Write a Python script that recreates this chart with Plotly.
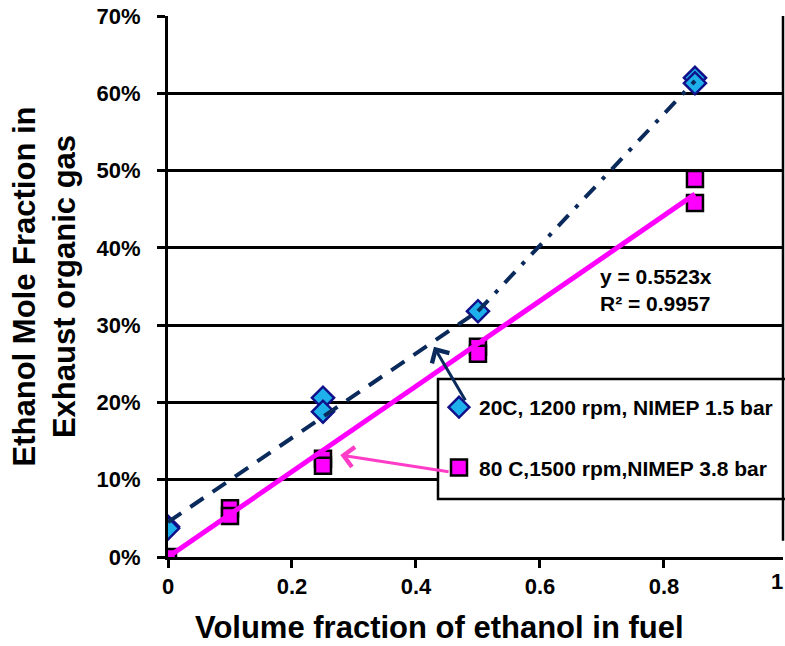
import plotly.graph_objects as go

# ---- data ----
x_20c = [0, 0, 0.25, 0.25, 0.5, 0.85, 0.85]
y_20c = [0.039, 0.037, 0.206, 0.188, 0.318, 0.620, 0.613]

x_80c = [0, 0.1, 0.1, 0.25, 0.25, 0.5, 0.5, 0.85, 0.85]
y_80c = [0.000, 0.063, 0.053, 0.127, 0.118, 0.272, 0.263, 0.489, 0.458]

# connecting line for the 20C series (dashed, then dash-dot)
line20_x_dash = [0, 0.5]
line20_y_dash = [0.045, 0.318]
line20_x_dashdot = [0.5, 0.85]
line20_y_dashdot = [0.318, 0.616]

# linear fit of the 80C series, y = 0.5523x
fit_slope = 0.5523
fit_r2 = 0.9957
fit_x = [0, 0.85]
fit_y = [fit_slope * v for v in fit_x]

label_20c = "20C, 1200 rpm, NIMEP 1.5 bar"
label_80c = "80 C,1500 rpm,NIMEP 3.8 bar"

x_ticks = [0, 0.2, 0.4, 0.6, 0.8]
x_tick_text = ["0", "0.2", "0.4", "0.6", "0.8"]
y_ticks = [0, 0.1, 0.2, 0.3, 0.4, 0.5, 0.6, 0.7]

FONT = "Liberation Sans, Arial, sans-serif"
NAVY = "#0b2a5c"
PINK = "#ff00ff"

fig = go.Figure()

fig.add_trace(go.Scatter(
    x=x_20c, y=y_20c, mode="markers", name=label_20c, legendgroup="a",
    marker=dict(symbol="diamond", size=17, color="#1eb0ea", line=dict(color="#10108a", width=2.5)),
))
fig.add_trace(go.Scatter(
    x=x_80c, y=y_80c, mode="markers", name=label_80c, legendgroup="b",
    marker=dict(symbol="square", size=16, color=PINK, line=dict(color="black", width=2.5)),
))
fig.add_trace(go.Scatter(
    x=line20_x_dash, y=line20_y_dash, mode="lines", showlegend=False,
    line=dict(color=NAVY, width=4, dash="16px,11px"),
))
fig.add_trace(go.Scatter(
    x=line20_x_dashdot, y=line20_y_dashdot, mode="lines", showlegend=False,
    line=dict(color=NAVY, width=4, dash="15px,10px,4px,10px"),
))
fig.add_trace(go.Scatter(
    x=fit_x, y=fit_y, mode="lines", showlegend=False,
    line=dict(color=PINK, width=5),
))

# legend box
fig.add_shape(type="rect", xref="paper", yref="paper",
              x0=(438 - 168) / 615, x1=1.2, y0=(557 - 499) / 541, y1=(557 - 379) / 541,
              fillcolor="white", line=dict(color="black", width=2.5), layer="above")
# right border of plot area
fig.add_shape(type="line", xref="paper", yref="paper", x0=1, x1=1, y0=0.03, y1=1,
              line=dict(color="black", width=2.5), layer="above")

# trendline equation
fig.add_annotation(x=0.694, y=0.345, xref="x", yref="y", xanchor="left", yanchor="middle",
                   align="left", showarrow=False,
                   text=f"<b>y = {fit_slope}x<br>R² = {fit_r2}</b>",
                   font=dict(family=FONT, size=21, color="black"))

# arrows from legend to series
fig.add_annotation(x=0.429, y=0.272, xref="x", yref="y", ax=0.481, ay=0.201,
                   axref="x", ayref="y", text="", showarrow=True, arrowhead=4,
                   arrowsize=1.3, arrowwidth=3, arrowcolor=NAVY)
fig.add_annotation(x=0.278, y=0.132, xref="x", yref="y", ax=0.455, ay=0.110,
                   axref="x", ayref="y", text="", showarrow=True, arrowhead=4,
                   arrowsize=1.3, arrowwidth=3, arrowcolor="#ff3cc8")

# the "1" tick label at the right edge
fig.add_annotation(x=(785 - 168) / 615, y=-0.046, xref="paper", yref="paper", text="<b>1</b>",
                   showarrow=False, xanchor="right", yanchor="middle",
                   font=dict(family=FONT, size=22, color="black"))

# x axis title (left of plot-area centre, as in the reference)
fig.add_annotation(x=(439 - 168) / 615, y=(557 - 627) / 541, xref="paper", yref="paper",
                   text="<b>Volume fraction of ethanol in fuel</b>", showarrow=False,
                   xanchor="center", yanchor="middle",
                   font=dict(family=FONT, size=31, color="black"))

fig.update_layout(
    width=785, height=646,
    margin=dict(l=168, r=2, t=16, b=89),
    paper_bgcolor="white", plot_bgcolor="white",
    font=dict(family=FONT, color="black"),
    showlegend=True,
    legend=dict(x=(439 - 168) / 615, y=(557 - 387) / 541, xanchor="left", yanchor="top",
                bgcolor="rgba(0,0,0,0)", borderwidth=0,
                font=dict(family=FONT, size=21, color="black", weight="bold"),
                traceorder="grouped", tracegroupgap=30, itemsizing="trace"),
    xaxis=dict(
        range=[0, 0.992], tickvals=x_ticks, ticktext=[f"<b>{t}</b>" for t in x_tick_text],
        showgrid=False, zeroline=False, showline=True, linecolor="black", linewidth=3,
        ticks="outside", ticklen=8, tickwidth=2.5, tickcolor="black",
        tickfont=dict(family=FONT, size=22, color="black"),
    ),
    yaxis=dict(
        range=[0, 0.7], tickvals=y_ticks, tickformat=".0%",
        showgrid=True, gridcolor="black", gridwidth=3,
        zeroline=False, showline=True, linecolor="black", linewidth=3,
        ticks="outside", ticklen=8, tickwidth=2.5, tickcolor="black",
        tickfont=dict(family=FONT, size=22, color="black", weight="bold"),
        ticklabelstandoff=12,
        title=dict(text="<b>Ethanol Mole Fraction in<br>Exhaust organic gas</b>",
                   font=dict(family=FONT, size=31, color="black"), standoff=12),
    ),
)

fig.write_html("out.html")
